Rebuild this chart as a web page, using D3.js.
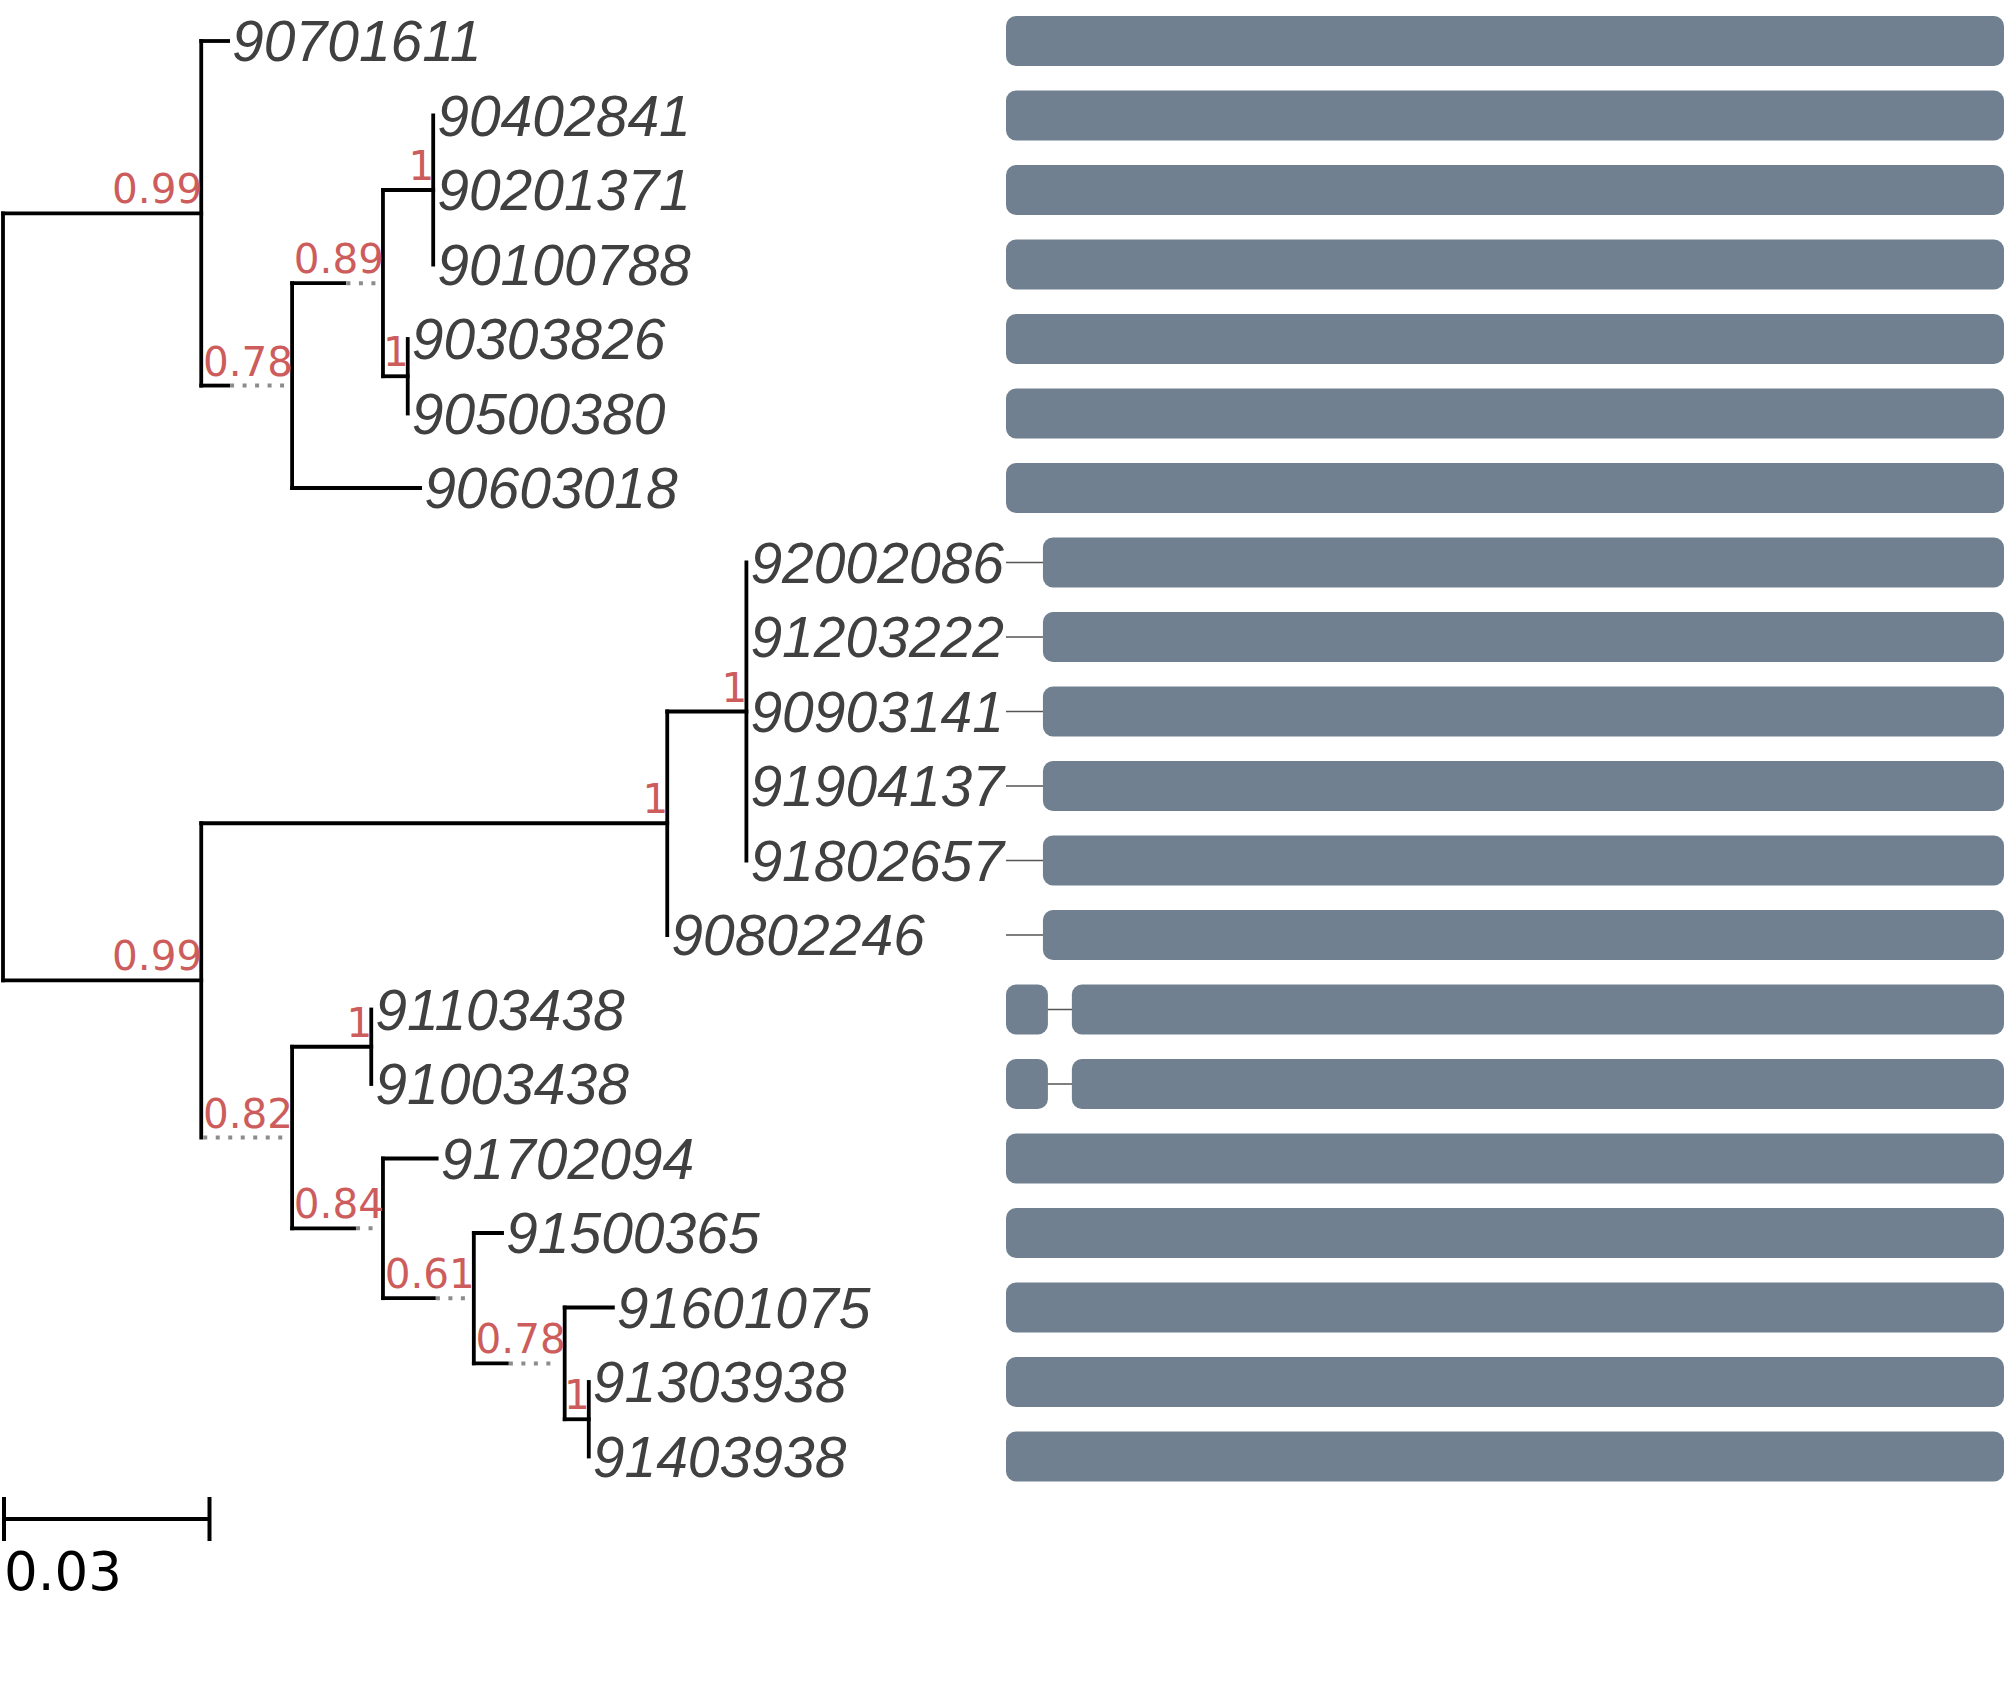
<!DOCTYPE html>
<html>
<head>
<meta charset="utf-8">
<script src="https://cdn.jsdelivr.net/npm/d3@7/dist/d3.min.js"></script>
<style>
  html, body { margin: 0; padding: 0; background: #fff; }
  svg { display: block; }
</style>
</head>
<body>
<div id="chart"></div>
<script>
// tree nodes: parent link, branch length (subst/site), solid part of branch, support
const treeNodes = [
  { id: "root", parent: "" },
  { id: "n1", parent: "root", length: 0.0288, support: "0.99" },
  { id: "90701611", parent: "n1", length: 0.0039 },
  { id: "n2", parent: "n1", length: 0.0132, solid: 0.0039, support: "0.78" },
  { id: "n3", parent: "n2", length: 0.0132, solid: 0.0076, support: "0.89" },
  { id: "n4", parent: "n3", length: 0.0073, support: "1" },
  { id: "90402841", parent: "n4", length: 0 },
  { id: "90201371", parent: "n4", length: 0 },
  { id: "90100788", parent: "n4", length: 0 },
  { id: "n5", parent: "n3", length: 0.0036, support: "1" },
  { id: "90303826", parent: "n5", length: 0 },
  { id: "90500380", parent: "n5", length: 0 },
  { id: "90603018", parent: "n2", length: 0.0186 },
  { id: "n6", parent: "root", length: 0.0288, support: "0.99" },
  { id: "n7", parent: "n6", length: 0.0677, support: "1" },
  { id: "n8", parent: "n7", length: 0.0115, support: "1" },
  { id: "92002086", parent: "n8", length: 0 },
  { id: "91203222", parent: "n8", length: 0 },
  { id: "90903141", parent: "n8", length: 0 },
  { id: "91904137", parent: "n8", length: 0 },
  { id: "91802657", parent: "n8", length: 0 },
  { id: "90802246", parent: "n7", length: 0 },
  { id: "n9", parent: "n6", length: 0.0132, solid: 0, support: "0.82" },
  { id: "n10", parent: "n9", length: 0.0115, support: "1" },
  { id: "91103438", parent: "n10", length: 0 },
  { id: "91003438", parent: "n10", length: 0 },
  { id: "n11", parent: "n9", length: 0.0132, solid: 0.0090, support: "0.84" },
  { id: "91702094", parent: "n11", length: 0.0078 },
  { id: "n12", parent: "n11", length: 0.0132, solid: 0.0074, support: "0.61" },
  { id: "91500365", parent: "n12", length: 0.0041 },
  { id: "n13", parent: "n12", length: 0.0132, solid: 0.0048, support: "0.78" },
  { id: "91601075", parent: "n13", length: 0.0070 },
  { id: "n14", parent: "n13", length: 0.0035, support: "1" },
  { id: "91303938", parent: "n14", length: 0 },
  { id: "91403938", parent: "n14", length: 0 }
];

// alignment blocks per tip (positions 0..1000), default is full length
const alignLength = 1000;
const alignGapped = {
  "92002086": [[37, 1000]],
  "91203222": [[37, 1000]],
  "90903141": [[37, 1000]],
  "91904137": [[37, 1000]],
  "91802657": [[37, 1000]],
  "90802246": [[37, 1000]],
  "91103438": [[0, 42], [66, 1000]],
  "91003438": [[0, 42], [66, 1000]]
};

const scaleBarValue = 0.03;

const W = 2007, H = 1705;
const lineColor = "#000", dotColor = "#8c8c8c", supportColor = "#CD5C5C";
const tipColor = "#404040", barColor = "#708090";

const svg = d3.select("#chart").append("svg")
  .attr("width", W).attr("height", H);
svg.append("rect").attr("width", W).attr("height", H).attr("fill", "#fff");

const root = d3.stratify().id(d => d.id).parentId(d => d.parent || null)(treeNodes);

// cumulative distance from root
root.eachBefore(n => {
  n.dist = n.parent ? n.parent.dist + (n.data.length || 0) : 0;
});

const tips = root.leaves().map(l => l.id);

const x = d3.scaleLinear().domain([0, scaleBarValue]).range([3, 209.5]);
const y = d3.scalePoint().domain(tips).range([41, 41 + 74.5 * (tips.length - 1)]);

// y: tips from scale, internal nodes = mean of children
root.eachAfter(n => {
  n.py = n.children ? d3.mean(n.children, c => c.py) : y(n.id);
  n.px = x(n.dist);
});

const g = svg.append("g");

// vertical connectors
g.selectAll("line.vert")
  .data(root.descendants().filter(n => n.children))
  .join("line")
  .attr("class", "vert")
  .attr("x1", d => d.px).attr("x2", d => d.px)
  .attr("y1", d => d.children[0].py)
  .attr("y2", d => d.children[d.children.length - 1].py)
  .attr("stroke", lineColor).attr("stroke-width", 3.8)
  .attr("stroke-linecap", "square");

const branches = root.descendants().filter(n => n.parent && n.data.length > 0);

// solid part of branch
g.selectAll("line.solid")
  .data(branches.filter(n => (n.data.solid == null ? n.data.length : n.data.solid) > 0))
  .join("line")
  .attr("class", "solid")
  .attr("x1", d => d.parent.px)
  .attr("x2", d => x(d.parent.dist + (d.data.solid == null ? d.data.length : d.data.solid)))
  .attr("y1", d => d.py).attr("y2", d => d.py)
  .attr("stroke", lineColor).attr("stroke-width", 3.8)
  .attr("stroke-linecap", "square");

// dotted remainder
g.selectAll("line.dotted")
  .data(branches.filter(n => n.data.solid != null && n.data.solid < n.data.length))
  .join("line")
  .attr("class", "dotted")
  .attr("x1", d => x(d.parent.dist + d.data.solid) + 2)
  .attr("x2", d => d.px - 6)
  .attr("y1", d => d.py).attr("y2", d => d.py)
  .attr("stroke", dotColor).attr("stroke-width", 4)
  .attr("stroke-dasharray", "4 8.5");

// support values
g.selectAll("text.support")
  .data(root.descendants().filter(n => n.data.support))
  .join("text")
  .attr("class", "support")
  .attr("x", d => d.px + 1)
  .attr("y", d => d.py - 10)
  .attr("text-anchor", "end")
  .attr("fill", supportColor)
  .style("font-family", "DejaVu Sans")
  .style("font-size", "40.5px")
  .text(d => d.data.support);

// tip labels
g.selectAll("text.tip")
  .data(root.leaves())
  .join("text")
  .attr("class", "tip")
  .attr("x", d => d.px + 4)
  .attr("y", d => d.py + 20)
  .attr("fill", tipColor)
  .style("font-family", "Liberation Sans")
  .style("font-style", "italic")
  .style("font-size", "57px")
  .text(d => d.id);

// scale bar
const sb = svg.append("g").attr("class", "scale-bar");
const sbY = 1519;
sb.append("line")
  .attr("x1", x(0)).attr("x2", x(scaleBarValue))
  .attr("y1", sbY).attr("y2", sbY)
  .attr("stroke", "#000").attr("stroke-width", 4);
sb.selectAll("line.tick")
  .data([0, scaleBarValue])
  .join("line")
  .attr("class", "tick")
  .attr("x1", d => x(d) + (d === 0 ? 1 : 0)).attr("x2", d => x(d) + (d === 0 ? 1 : 0))
  .attr("y1", sbY - 22).attr("y2", sbY + 22)
  .attr("stroke", "#000").attr("stroke-width", 4);
sb.append("text")
  .attr("x", x(0) + 1)
  .attr("y", 1590)
  .attr("fill", "#000")
  .style("font-family", "DejaVu Sans")
  .style("font-size", "53px")
  .text(String(scaleBarValue));

// alignment panel
const bx = d3.scaleLinear().domain([0, alignLength]).range([1006, 2004]);
const barH = 50;

const rows = svg.append("g").attr("class", "align")
  .selectAll("g.row")
  .data(tips)
  .join("g")
  .attr("class", "row")
  .attr("transform", d => `translate(0,${y(d)})`);

rows.append("line")
  .attr("x1", bx(0)).attr("x2", bx(alignLength))
  .attr("stroke", "#555").attr("stroke-width", 1.6);

rows.selectAll("rect")
  .data(d => alignGapped[d] || [[0, alignLength]])
  .join("rect")
  .attr("x", s => bx(s[0]))
  .attr("width", s => bx(s[1]) - bx(s[0]))
  .attr("y", -barH / 2)
  .attr("height", barH)
  .attr("rx", 10).attr("ry", 10)
  .attr("fill", barColor);
</script>
</body>
</html>
